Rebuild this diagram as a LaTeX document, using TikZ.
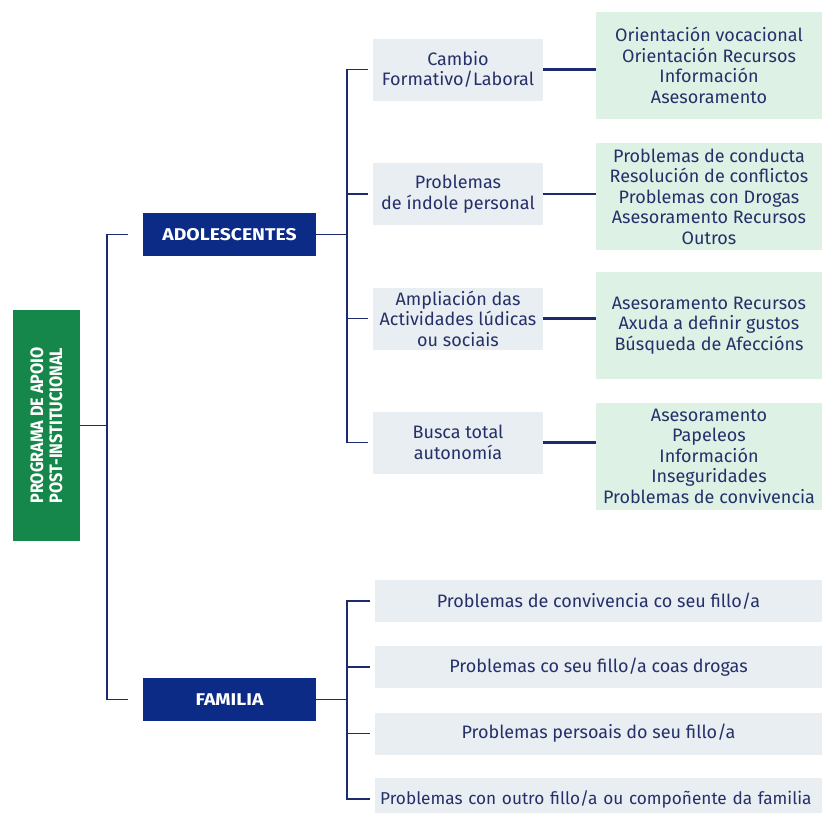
\documentclass[tikz,border=0pt]{standalone}
\usepackage{fontspec}
\setmainfont{Fira Sans}
\usepackage{xcolor}
\usetikzlibrary{positioning,calc}
\definecolor{navy}{HTML}{0B2B86}
\definecolor{linecol}{HTML}{1D2A6E}
\definecolor{txtcol}{HTML}{25306A}
\definecolor{progreen}{HTML}{16874B}
\definecolor{grayblue}{HTML}{E8EEF1}
\definecolor{mint}{HTML}{DDF2E4}

\begin{document}
\begin{tikzpicture}[x=1pt, y=-1pt,
  font=\fontsize{18}{20.5}\selectfont, text=txtcol,
  link/.style={draw=linecol, line width=1.6pt},
  bold link/.style={draw=linecol, line width=2.6pt},
  headbox/.style={fill=navy, text=white, inner sep=0pt, minimum width=173pt,
    minimum height=43pt, font=\fontsize{17}{19}\selectfont\bfseries},
  topic/.style={fill=grayblue, inner sep=0pt, minimum width=170pt,
    minimum height=62pt, align=center},
  detail/.style={fill=mint, inner sep=0pt, minimum width=226pt,
    minimum height=107pt, align=center},
  famitem/.style={fill=grayblue, inner sep=0pt, minimum width=447pt,
    minimum height=42pt}]
\useasboundingbox[fill=white] (0,0) rectangle (822,812);

% root
\node[fill=progreen, minimum width=67pt, minimum height=231pt, inner sep=0pt]
  (prog) at (46.5,425.5) {};
\node[rotate=90, text=white, align=center,
  font=\fontsize{18}{19}\selectfont\bfseries] at (prog.center)
  {\scalebox{0.9}[1]{PROGRAMA DE APOIO}\\ \scalebox{0.9}[1]{POST-INSTITUCIONAL}};

\node[headbox] (ado) at (229.5,234.5) {\scalebox{1.14}[1]{ADOLESCENTES}};
\node[headbox] (fam) at (229.5,699.5) {\scalebox{1.14}[1]{FAMILIA}};

\coordinate (jr) at (107,0);
\draw[link] (prog.east) -- (prog.east -| jr);
\draw[link] ([xshift=-15pt]ado.west) -| (jr |- prog.east) |- ([xshift=-15pt]fam.west);

% adolescentes
\foreach \i/\y/\t in {1/69.5/{Cambio\\Formativo/Laboral},
    2/194/{Problemas\\de índole personal},
    3/318.5/{Ampliación das\\Actividades lúdicas\\ou sociais},
    4/442.5/{Busca total\\autonomía}}
  \node[topic] (t\i) at (458,\y) {\t};

\foreach \i/\y/\t in {1/65.5/{Orientación vocacional\\Orientación Recursos\\Información\\Asesoramento},
    2/196.5/{Problemas de conducta\\Resolución de conflictos\\Problemas con Drogas\\Asesoramento Recursos\\Outros},
    3/325.5/{Asesoramento Recursos\\Axuda a definir gustos\\Búsqueda de Afeccións},
    4/456/{Asesoramento\\Papeleos\\Información\\Inseguridades\\Problemas de convivencia}}
  \node[detail] (d\i) at (709,\y) {\t};

\coordinate (ja) at (347,0);
\draw[link] (ado.east) -- (ado.east -| ja);
\draw[link] ([xshift=-5pt]t1.west) -| (ja |- t4.west) -- ([xshift=-5pt]t4.west);
\foreach \i in {2,3}
  \draw[link] ([xshift=-5pt]t\i.west) -- (ja |- t\i.west);
\foreach \i in {1,...,4}
  \draw[bold link] (t\i.east) -- (t\i.east -| d\i.west);

% familia
\foreach \i/\y/\t in {1/601/{Problemas de convivencia co seu fillo/a},
    2/667/{Problemas co seu fillo/a coas drogas},
    3/733.5/{Problemas persoais do seu fillo/a}}
  \node[famitem] (f\i) at (598.5,\y) {\t};
\node[famitem, anchor=west, text width=480pt, inner xsep=5pt, align=left,
  font=\fontsize{17.2}{20}\selectfont]
  (f4) at (375,799) {Problemas con outro fillo/a ou compoñente da familia};

\draw[link] (fam.east) -- (fam.east -| ja);
\draw[link] ([xshift=-5pt]f1.west) -| (ja |- f4.west) -- ([xshift=-5pt]f4.west);
\foreach \i in {2,3}
  \draw[link] ([xshift=-5pt]f\i.west) -- (ja |- f\i.west);
\end{tikzpicture}
\end{document}
